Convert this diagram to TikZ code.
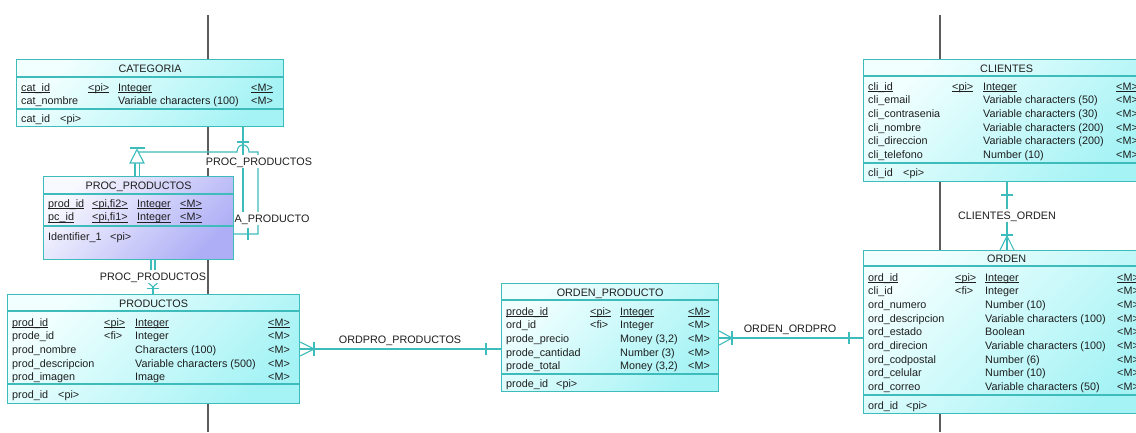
\documentclass[tikz,border=0pt]{standalone}
\usepackage{fontspec}
\setmainfont{Liberation Sans}
\definecolor{tealln}{HTML}{3EBCBC}
\definecolor{cyanA}{HTML}{F2FFFF}
\definecolor{cyanB}{HTML}{A6F3F5}
\definecolor{lavA}{HTML}{F8F8FF}
\definecolor{lavB}{HTML}{AEAEF6}
\definecolor{grayln}{HTML}{5C5C5C}
\definecolor{txtc}{HTML}{1E1E1E}
\newcommand\entcol[4]{\node[colm] (#1) at (#2,{#3-5.65}) {\strut #4};}
\newcommand\ul[1]{\setbox0=\hbox{#1}\rlap{\rule[-1.6pt]{\wd0}{0.75pt}}\box0}
\tikzset{
  ent/.style={draw=tealln, line width=1.2pt, anchor=north west, inner sep=0pt,
              left color=cyanA, right color=cyanB, shading angle=45},
  entlav/.style={ent, left color=lavA, right color=lavB, shading angle=45},
  sepline/.style={draw=tealln, line width=1.2pt},
  colm/.style={anchor=north west, align=left, inner sep=0pt,
               font=\fontsize{10.8}{13.65}\selectfont, text=txtc},
  cell/.style={anchor=west, inner sep=0pt, text height=9.5pt, text depth=0.5pt,
               font=\fontsize{10.8}{13}\selectfont, text=txtc},
  ttl/.style={cell, anchor=center},
  lbl/.style={cell, anchor=center, fill=white, text height=9.8pt, text depth=1.2pt,
              inner xsep=0.5pt, inner ysep=1pt},
  rel/.style={draw=tealln, line width=1.1pt},
  grayl/.style={draw=grayln, line width=1.2pt}
}
\begin{document}
\begin{tikzpicture}[x=1pt,y=-1pt]
\useasboundingbox (0,0) rectangle (1136,432);
\clip (0,0) rectangle (1136,432);
\fill[white] (0,0) rectangle (1136,432);

% gray vertical guide lines
\coordinate (g1t) at (208,15); \coordinate (g1b) at (208,432);
\coordinate (g2t) at (940,15); \coordinate (g2b) at (940,432);
\draw[grayl] (g1t) -- (g1b);
\draw[grayl] (g2t) -- (g2b);

% ---------- connectors ----------
% CATEGORIA -> PROC_PRODUCTOS (vertical at x 243)
\coordinate (cpA) at (243,218);
\draw[rel] (cpA |- 0,126) -- (cpA) -- (233,218);
\draw[rel] (237,142) -- (249,142);
% reflexive PROC_PRODUCTOS loop with triangle
\coordinate (lpA) at (137,152);
\coordinate (lpB) at (258,152);
\coordinate (lpC) at (258,234);
\draw[rel] (lpA) -- (237,152) .. controls (237,142.5) and (249,142.5) .. (249,152) -- (lpB) -- (lpC) -- (lpC -| 233,0);
\draw[rel] (248,228) -- (248,240);
\draw[rel] (135,163) -- (135,176);
\draw[rel] (139.5,163) -- (139.5,176);
\draw[rel, fill=white] (137,149.5) -- (130,163) -- (144,163) -- cycle;
\draw[rel] (129.5,148) -- (144.5,148);

% PROC_PRODUCTOS -> PRODUCTOS
\draw[rel] (151,259) -- (151,271);
\draw[rel] (155,259) -- (155,271);
\draw[rel] (153,286.5) -- (153,294);
\draw[rel] (148,282.5) -- (153,287) -- (158,282.5);
\draw[rel] (147,288.5) -- (159,288.5);

% ---------- entities ----------
% CATEGORIA
\node[ent, minimum width=267pt, minimum height=67pt] (cat) at (16,59) {};
\draw[sepline] (cat.west |- 0,77) -- (cat.east |- 0,77);
\draw[sepline] (cat.west |- 0,109) -- (cat.east |- 0,109);
\node[ttl] (cat-t) at (cat.north |- 0,68) {CATEGORIA};
\entcol{cat-a}{21}{87}{\ul{cat\_id}\\cat\_nombre}
\entcol{cat-b}{88}{87}{\ul{<pi>}}
\entcol{cat-c}{118}{87}{\ul{Integer}\\Variable characters (100)}
\entcol{cat-d}{251}{87}{\ul{<M>}\\<M>}
\node[cell] (cat-k1) at (21,118) {cat\_id};
\node[cell] (cat-k2) at (60,118) {<pi>};

% PROC_PRODUCTOS
\node[entlav, minimum width=190pt, minimum height=83pt] (proc) at (43,176) {};
\draw[sepline] (proc.west |- 0,194) -- (proc.east |- 0,194);
\draw[sepline] (proc.west |- 0,226) -- (proc.east |- 0,226);
\node[ttl] (proc-t) at (proc.north |- 0,185) {PROC\_PRODUCTOS};
\entcol{proc-a}{48}{203}{\ul{prod\_id}\\\ul{pc\_id}}
\entcol{proc-b}{92}{203}{\ul{<pi,fi2>}\\\ul{<pi,fi1>}}
\entcol{proc-c}{137}{203}{\ul{Integer}\\\ul{Integer}}
\entcol{proc-d}{180}{203}{\ul{<M>}\\\ul{<M>}}
\node[cell] (proc-k1) at (48,236) {Identifier\_1};
\node[cell] (proc-k2) at (110,236) {<pi>};

% PRODUCTOS
\node[ent, minimum width=292pt, minimum height=109pt] (prod) at (7,294) {};
\draw[sepline] (prod.west |- 0,311) -- (prod.east |- 0,311);
\draw[sepline] (prod.west |- 0,384) -- (prod.east |- 0,384);
\node[ttl] (prod-t) at (prod.north |- 0,303) {PRODUCTOS};
\entcol{prod-a}{12}{322}{\ul{prod\_id}\\prode\_id\\prod\_nombre\\prod\_descripcion\\prod\_imagen}
\entcol{prod-b}{104}{322}{\ul{<pi>}\\<fi>}
\entcol{prod-c}{135}{322}{\ul{Integer}\\Integer\\Characters (100)\\Variable characters (500)\\Image}
\entcol{prod-d}{268}{322}{\ul{<M>}\\<M>\\<M>\\<M>\\<M>}
\node[cell] (prod-k1) at (12,394) {prod\_id};
\node[cell] (prod-k2) at (58,394) {<pi>};

% ORDEN_PRODUCTO
\node[ent, minimum width=217pt, minimum height=108pt] (op) at (501,283) {};
\draw[sepline] (op.west |- 0,300) -- (op.east |- 0,300);
\draw[sepline] (op.west |- 0,374) -- (op.east |- 0,374);
\node[ttl] (op-t) at (op.north |- 0,292) {ORDEN\_PRODUCTO};
\entcol{op-a}{506}{311}{\ul{prode\_id}\\ord\_id\\prode\_precio\\prode\_cantidad\\prode\_total}
\entcol{op-b}{590}{311}{\ul{<pi>}\\<fi>}
\entcol{op-c}{620}{311}{\ul{Integer}\\Integer\\Money (3,2)\\Number (3)\\Money (3,2)}
\entcol{op-d}{688}{311}{\ul{<M>}\\<M>\\<M>\\<M>\\<M>}
\node[cell] (op-k1) at (506,383) {prode\_id};
\node[cell] (op-k2) at (556,383) {<pi>};

% ORDEN
\node[ent, minimum width=286pt, minimum height=163pt] (ord) at (863,250) {};
\draw[sepline] (ord.west |- 0,266) -- (ord.east |- 0,266);
\draw[sepline] (ord.west |- 0,395) -- (ord.east |- 0,395);
\node[ttl] (ord-t) at (ord.north |- 0,258) {ORDEN};
\entcol{ord-a}{868}{277}{\ul{ord\_id}\\cli\_id\\ord\_numero\\ord\_descripcion\\ord\_estado\\ord\_direcion\\ord\_codpostal\\ord\_celular\\ord\_correo}
\entcol{ord-b}{955}{277}{\ul{<pi>}\\<fi>}
\entcol{ord-c}{985}{277}{\ul{Integer}\\Integer\\Number (10)\\Variable characters (100)\\Boolean\\Variable characters (100)\\Number (6)\\Number (10)\\Variable characters (50)}
\entcol{ord-d}{1117}{277}{\ul{<M>}\\<M>\\<M>\\<M>\\<M>\\<M>\\<M>\\<M>\\<M>}
\node[cell] (ord-k1) at (868,405) {ord\_id};
\node[cell] (ord-k2) at (906,405) {<pi>};

% CLIENTES
\node[ent, minimum width=286pt, minimum height=122pt] (cli) at (863,59) {};
\draw[sepline] (cli.west |- 0,76) -- (cli.east |- 0,76);
\draw[sepline] (cli.west |- 0,163) -- (cli.east |- 0,163);
\node[ttl] (cli-t) at (cli.north |- 0,68) {CLIENTES};
\entcol{cli-a}{868}{86}{\ul{cli\_id}\\cli\_email\\cli\_contrasenia\\cli\_nombre\\cli\_direccion\\cli\_telefono}
\entcol{cli-b}{952}{86}{\ul{<pi>}}
\entcol{cli-c}{983}{86}{\ul{Integer}\\Variable characters (50)\\Variable characters (30)\\Variable characters (200)\\Variable characters (200)\\Number (10)}
\entcol{cli-d}{1116}{86}{\ul{<M>}\\<M>\\<M>\\<M>\\<M>\\<M>}
\node[cell] (cli-k1) at (868,172) {cli\_id};
\node[cell] (cli-k2) at (903,172) {<pi>};

% ---------- connectors between entities ----------
% ORDPRO_PRODUCTOS
\draw[rel] (prod.east |- 0,349) -- (op.west |- 0,349);
\draw[rel] (prod.east |- 0,342) -- (314,349) -- (prod.east |- 0,356);
\draw[rel] (314,342) -- (314,356);
\draw[rel] (486,343) -- (486,355);
% ORDEN_ORDPRO
\draw[rel] (op.east |- 0,338) -- (ord.west |- 0,338);
\draw[rel] (op.east |- 0,331) -- (732,338) -- (op.east |- 0,345);
\draw[rel] (732,331) -- (732,345);
\draw[rel] (849,332) -- (849,344);
% CLIENTES_ORDEN
\draw[rel] (cli.south -| 1007,0) -- (ord.north -| 1007,0);
\draw[rel] (1001,195) -- (1013,195);
\draw[rel] (1001,235) -- (1013,235);
\draw[rel] (1000,250) -- (1007,236) -- (1014,250);

% ---------- relationship labels ----------
\node[lbl] (l-proc1) at (259,161) {PROC\_PRODUCTOS};
\node[lbl, anchor=west] (l-catprod) at (234,218) {A\_PRODUCTO};
\node[lbl] (l-proc2) at (153,276) {PROC\_PRODUCTOS};
\node[lbl] (l-ordpro) at (400,339) {ORDPRO\_PRODUCTOS};
\node[lbl] (l-ordord) at (790,328) {ORDEN\_ORDPRO};
\node[lbl] (l-cliord) at (1007,215) {CLIENTES\_ORDEN};
\end{tikzpicture}
\end{document}
